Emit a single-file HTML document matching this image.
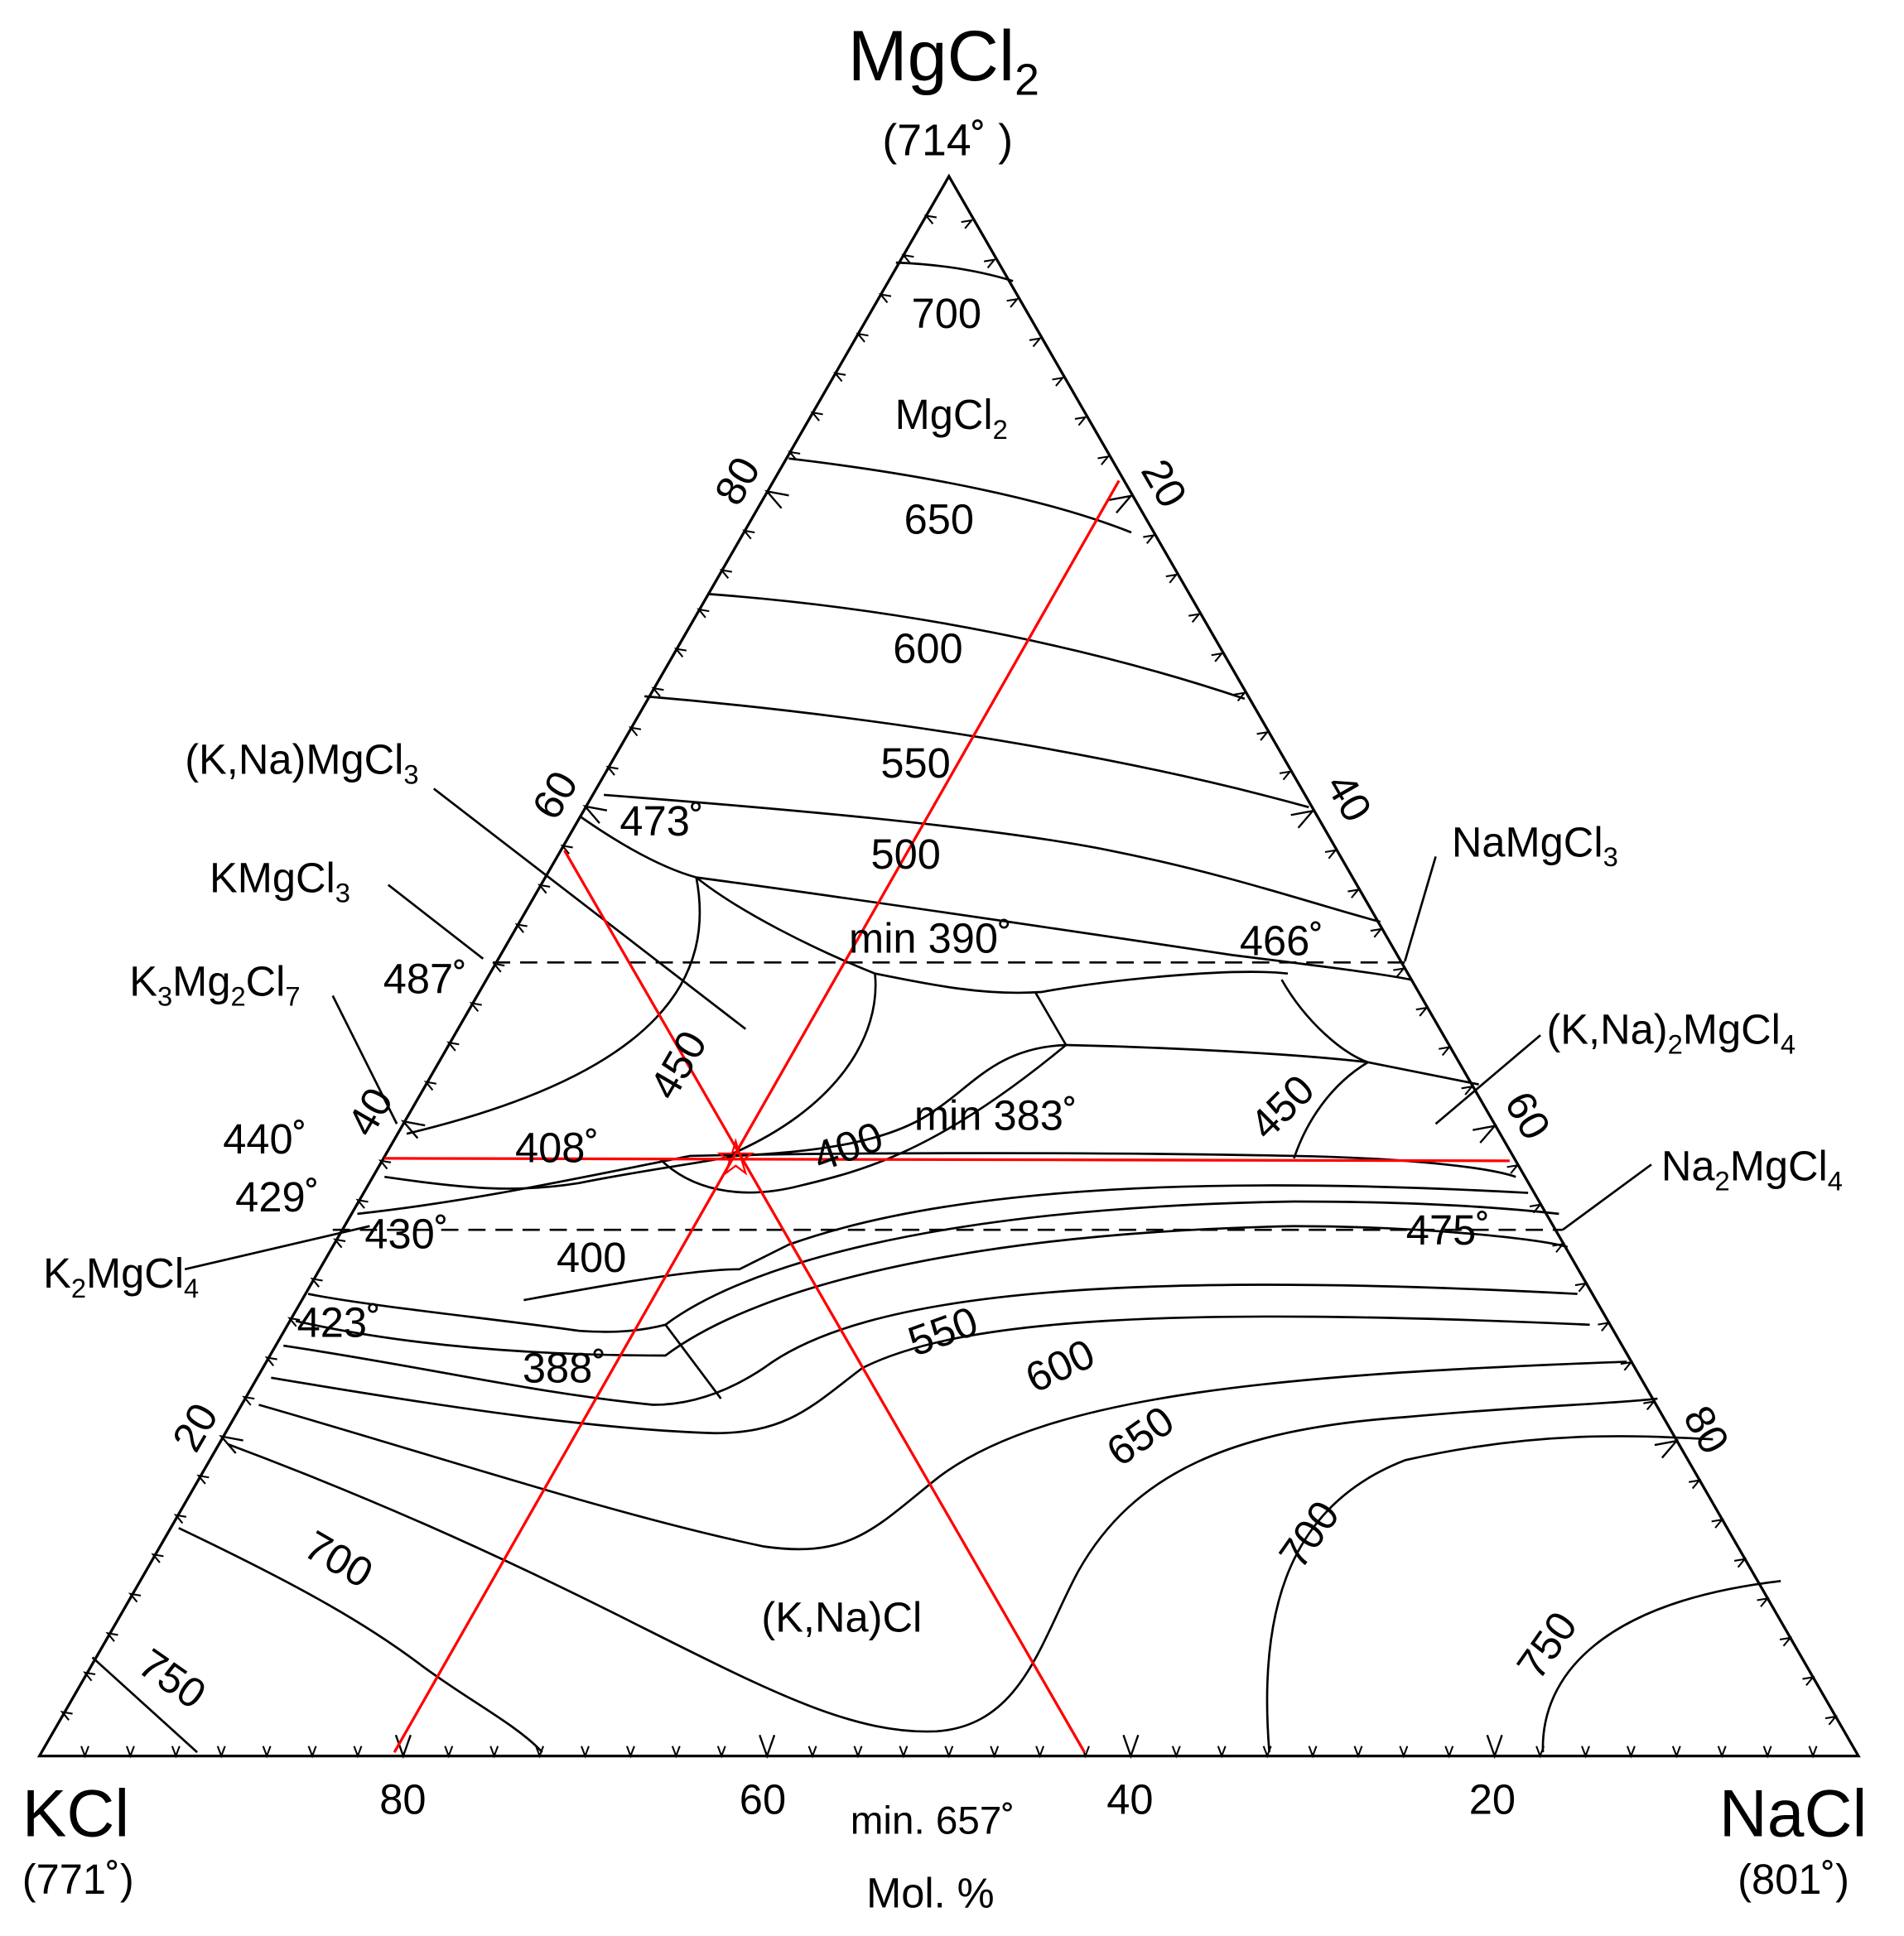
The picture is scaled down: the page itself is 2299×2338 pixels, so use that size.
<!DOCTYPE html>
<html><head><meta charset="utf-8"><style>
html,body{margin:0;padding:0;background:#fff}
svg{display:block}
text{font-family:"Liberation Sans",Arial,sans-serif;fill:#000}
</style></head><body>
<svg width="2299" height="2338" viewBox="0 0 1545 1571" xmlns="http://www.w3.org/2000/svg">
<defs>
<path id="s" d="M-3,-8 L0,0 L3,-8" stroke="#000" stroke-width="1.4" fill="none"/>
<path id="b" d="M-6,-17 L0,0 L6,-17" stroke="#000" stroke-width="1.6" fill="none"/>
<g id="q"><use href="#s" x="36.9"/><use href="#s" x="73.8"/><use href="#s" x="110.7"/><use href="#s" x="147.6"/><use href="#s" x="184.5"/><use href="#s" x="221.4"/><use href="#s" x="258.3"/></g>
<g id="row">
<use href="#q"/><use href="#b" x="295.2"/>
<use href="#q" x="295.2"/><use href="#b" x="590.4"/>
<use href="#q" x="590.4"/><use href="#b" x="885.6"/>
<use href="#q" x="885.6"/><use href="#b" x="1180.8"/>
<use href="#q" x="1180.8"/>
</g>
</defs>
<path d="M770,143 L32,1425 L1508,1425 Z" fill="none" stroke="#000" stroke-width="2.2"/>
<use href="#row" transform="translate(32,1425)"/>
<use href="#row" transform="translate(770,143) rotate(120)"/>
<use href="#row" transform="translate(1508,1425) rotate(240)"/>
<g stroke="#000" stroke-width="1.8" stroke-dasharray="14,8" fill="none">
<path d="M400,781 L1140,781"/>
<path d="M270,998 L1268,998"/>
</g>
<g stroke="#000" stroke-width="1.8" fill="none">
<path d="M727,213 Q780,215 822,228"/>
<path d="M640,372 C750,385 850,405 918,432"/>
<path d="M575,482 C750,495 900,530 1010,567"/>
<path d="M523,565 C700,580 900,610 1062,655"/>
<path d="M490,645 C620,655 800,670 900,690 C1000,710 1070,735 1120,748"/>
<path d="M470,662 C510,690 540,705 565,712 C700,730 900,760 1000,775 C1080,785 1120,790 1145,795"/>
<path d="M565,712 C600,740 660,770 710,790 C760,800 800,808 845,805 C900,795 1000,785 1045,790"/>
<path d="M565,712 C580,790 540,870 330,920"/>
<path d="M840,805 L865,848"/>
<path d="M710,790 C715,840 680,900 590,938"/>
<path d="M865,848 C810,850 790,880 760,900 C720,930 650,935 597,938"/>
<path d="M865,848 C950,850 1050,855 1110,862 L1200,880"/>
<path d="M1040,795 C1060,830 1090,855 1110,862"/>
<path d="M1110,862 C1080,880 1060,910 1050,940"/>
<path d="M312,955 C380,965 420,968 470,960 C520,950 560,945 597,938"/>
<path d="M535,940 C560,965 600,975 650,962 C700,950 760,935 865,848"/>
<path d="M290,985 C380,975 450,960 560,938 C700,935 900,935 1050,938 C1150,940 1210,948 1230,955"/>
<path d="M425,1055 C480,1045 560,1030 600,1030 L640,1010 C780,960 1000,955 1240,968"/>
<path d="M250,1050 C300,1060 400,1070 470,1080 C500,1082 520,1080 540,1075 C600,1030 750,980 1050,975 C1150,975 1220,980 1265,985"/>
<path d="M240,1072 C320,1090 420,1100 540,1100 C620,1040 800,1000 1050,995 C1150,995 1250,1005 1272,1012"/>
<path d="M540,1075 L585,1135"/>
<path d="M230,1092 C350,1110 430,1130 530,1140 C560,1140 590,1130 620,1110 C700,1050 900,1030 1280,1050"/>
<path d="M220,1118 C350,1140 480,1160 580,1163 C640,1163 660,1140 700,1110 C780,1070 950,1060 1290,1075"/>
<path d="M210,1140 C350,1180 500,1230 620,1255 C690,1265 710,1240 760,1200 C850,1130 1050,1115 1320,1105"/>
<path d="M185,1172 C300,1215 400,1260 500,1310 C620,1370 690,1408 760,1405 C830,1400 845,1330 875,1275 C920,1195 1000,1160 1140,1150 C1250,1140 1300,1140 1345,1135"/>
<path d="M145,1240 C250,1290 300,1320 340,1350 C380,1380 420,1400 440,1422"/>
<path d="M75,1345 L160,1422"/>
<path d="M1030,1422 C1020,1300 1050,1220 1140,1185 C1250,1160 1330,1165 1390,1168"/>
<path d="M1252,1422 C1250,1360 1300,1300 1445,1283"/>
<path d="M352,640 L605,835"/>
<path d="M315,718 L392,778"/>
<path d="M270,808 L322,912"/>
<path d="M150,1030 L300,995"/>
<path d="M1165,695 L1140,780"/>
<path d="M1250,840 L1165,912"/>
<path d="M1340,945 L1268,998"/>
</g>
<g stroke="#f00" stroke-width="2.2" fill="none">
<path d="M320,1422 L908,390"/>
<path d="M880,1422 L458,690"/>
<path d="M312,940 L1225,942"/>
<path d="M597,926 L600,936 L610,936 L602,942 L605,952 L597,946 L589,952 L592,942 L584,936 L594,936 Z" stroke-width="1.5"/>
</g>
<text x="688" y="65" font-size="58">MgCl<tspan font-size="36" dy="12">2</tspan></text>
<text x="716" y="126" font-size="36">(714˚ )</text>
<text x="18" y="1490" font-size="54">KCl</text>
<text x="18" y="1537" font-size="34">(771˚)</text>
<text x="1395" y="1490" font-size="54">NaCl</text>
<text x="1410" y="1537" font-size="34">(801˚)</text>
<text x="308" y="1472" font-size="34">80</text>
<text x="600" y="1472" font-size="34">60</text>
<text x="898" y="1472" font-size="34">40</text>
<text x="1192" y="1472" font-size="34">20</text>
<text x="690" y="1488" font-size="32">min. 657˚</text>
<text x="703" y="1548" font-size="34">Mol. %</text>
<text font-size="34" transform="translate(598,390) rotate(-60)" text-anchor="middle" dy="12">80</text>
<text font-size="34" transform="translate(450,645) rotate(-60)" text-anchor="middle" dy="12">60</text>
<text font-size="34" transform="translate(300,902) rotate(-60)" text-anchor="middle" dy="12">40</text>
<text font-size="34" transform="translate(158,1158) rotate(-60)" text-anchor="middle" dy="12">20</text>
<text font-size="34" transform="translate(945,392) rotate(60)" text-anchor="middle" dy="12">20</text>
<text font-size="34" transform="translate(1095,647) rotate(60)" text-anchor="middle" dy="12">40</text>
<text font-size="34" transform="translate(1240,905) rotate(60)" text-anchor="middle" dy="12">60</text>
<text font-size="34" transform="translate(1385,1160) rotate(60)" text-anchor="middle" dy="12">80</text>
<g font-size="34" text-anchor="middle">
<text x="768" y="266">700</text>
<text x="772" y="348">MgCl<tspan font-size="22" dy="8">2</tspan></text>
<text x="762" y="433">650</text>
<text x="753" y="538">600</text>
<text x="743" y="631">550</text>
<text x="735" y="705">500</text>
<text x="537" y="678">473˚</text>
<text x="755" y="773">min 390˚</text>
<text x="1040" y="775">466˚</text>
<text x="345" y="806">487˚</text>
<text x="452" y="943">408˚</text>
<text x="215" y="936">440˚</text>
<text x="225" y="983">429˚</text>
<text x="330" y="1013">430˚</text>
<text x="480" y="1032">400</text>
<text x="275" y="1085">423˚</text>
<text x="458" y="1122">388˚</text>
<text x="808" y="917">min 383˚</text>
<text x="1175" y="1010">475˚</text>
<text x="683" y="1324">(K,Na)Cl</text>
<text transform="translate(550,864) rotate(-60)" dy="12">450</text>
<text transform="translate(688,930) rotate(-20)" dy="12">400</text>
<text transform="translate(1040,898) rotate(-45)" dy="12">450</text>
<text transform="translate(765,1080) rotate(-20)" dy="12">550</text>
<text transform="translate(860,1108) rotate(-25)" dy="12">600</text>
<text transform="translate(925,1165) rotate(-35)" dy="12">650</text>
<text transform="translate(1062,1245) rotate(-55)" dy="12">700</text>
<text transform="translate(1255,1335) rotate(-55)" dy="12">750</text>
<text transform="translate(275,1265) rotate(30)" dy="12">700</text>
<text transform="translate(140,1362) rotate(35)" dy="12">750</text>
</g>
<g font-size="34">
<text x="150" y="628">(K,Na)MgCl<tspan font-size="22" dy="8">3</tspan></text>
<text x="170" y="724">KMgCl<tspan font-size="22" dy="8">3</tspan></text>
<text x="105" y="808">K<tspan font-size="22" dy="8">3</tspan><tspan dy="-8">Mg</tspan><tspan font-size="22" dy="8">2</tspan><tspan dy="-8">Cl</tspan><tspan font-size="22" dy="8">7</tspan></text>
<text x="35" y="1045">K<tspan font-size="22" dy="8">2</tspan><tspan dy="-8">MgCl</tspan><tspan font-size="22" dy="8">4</tspan></text>
<text x="1178" y="695">NaMgCl<tspan font-size="22" dy="8">3</tspan></text>
<text x="1255" y="847">(K,Na)<tspan font-size="22" dy="8">2</tspan><tspan dy="-8">MgCl</tspan><tspan font-size="22" dy="8">4</tspan></text>
<text x="1348" y="958">Na<tspan font-size="22" dy="8">2</tspan><tspan dy="-8">MgCl</tspan><tspan font-size="22" dy="8">4</tspan></text>
</g>
</svg>
</body></html>
